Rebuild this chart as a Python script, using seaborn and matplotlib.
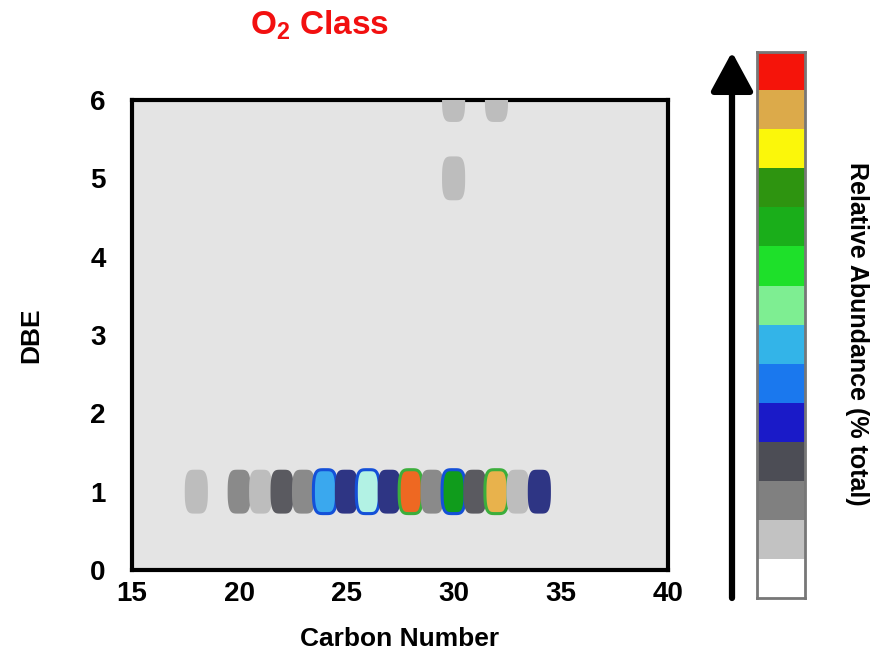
import numpy as np
import pandas as pd
import matplotlib
matplotlib.use("Agg")
import matplotlib.pyplot as plt
import seaborn as sns
from matplotlib.path import Path

# data: carbon number, DBE, abundance level (0..13)
carbon = [18, 20, 21, 22, 23, 24, 25, 26, 27, 28, 29, 30, 31, 32, 33, 34, 30, 30, 32]
dbe = [1, 1, 1, 1, 1, 1, 1, 1, 1, 1, 1, 1, 1, 1, 1, 1, 5, 6, 6]
level = [1, 2, 1, 3, 2, 6, 4, 7, 4, 13, 2, 9, 3, 12, 1, 4, 1, 1, 1]

# colour scale (bottom -> top) as in the colour bar
scale_colors = ["#ffffff", "#c2c2c2", "#808080", "#4c4d55", "#1a1ac8", "#1a78ee",
                "#33b4e8", "#7eee92", "#1ee02a", "#1aae1a", "#2e9410", "#fbf70a",
                "#dcaa4a", "#f5140a"]
# how the blobs look in the plot for each level
blob_colors = ["#ffffff", "#bdbdbd", "#8a8a8a", "#5a5a60", "#2e3584", "#1a78ee",
               "#3aa8ee", "#b2f2e4", "#1ee02a", "#109c1c", "#2e9410", "#fbf70a",
               "#e8b24c", "#ee6822"]
# ring around the strongest peaks
ring_colors = {6: "#1450d8", 7: "#1450d8", 9: "#1450d8", 12: "#3cae3c", 13: "#3cae3c"}

df = pd.DataFrame({"carbon": carbon, "dbe": dbe, "level": level})

sns.set_style("white")
plt.rcParams["font.family"] = ["Liberation Sans", "DejaVu Sans"]
plt.rcParams["text.color"] = "black"
plt.rcParams["xtick.color"] = "black"
plt.rcParams["ytick.color"] = "black"
plt.rcParams["axes.labelcolor"] = "black"
plt.rcParams["mathtext.fontset"] = "custom"
plt.rcParams["mathtext.rm"] = "Liberation Sans:bold"
plt.rcParams["mathtext.bf"] = "Liberation Sans:bold"

fig = plt.figure(figsize=(8.83, 6.55), dpi=100)
ax = fig.add_axes([0.1495, 0.1298, 0.607, 0.7175])
ax.set_facecolor("#e4e4e4")

# rounded vertical blob marker (superellipse)
t = np.linspace(0, 2 * np.pi, 80)
bx = 0.5 * np.sign(np.cos(t)) * np.abs(np.cos(t)) ** 0.45
by = 0.95 * np.sign(np.sin(t)) * np.abs(np.sin(t)) ** 0.75
blob = Path(np.column_stack([bx, by]), closed=True)

edges = [ring_colors.get(l, "none") for l in level]
lws = [2.2 if l in ring_colors else 0 for l in level]
pal = {i: c for i, c in enumerate(blob_colors)}
sns.scatterplot(data=df, x="carbon", y="dbe", hue="level", palette=pal,
                marker=blob, s=1000, edgecolor=edges, linewidth=lws,
                legend=False, ax=ax, zorder=3)

ax.set_xlim(15, 40)
ax.set_ylim(0, 6)
ax.set_xticks([15, 20, 25, 30, 35, 40])
ax.set_yticks(range(0, 7))
ax.tick_params(axis="both", labelsize=20, length=3, width=2, pad=5)
for lab in ax.get_xticklabels() + ax.get_yticklabels():
    lab.set_fontweight("bold")
ax.tick_params(axis="y", pad=16)
for sp in ax.spines.values():
    sp.set_visible(True)
    sp.set_color("black")
    sp.set_linewidth(3)
ax.set_xlabel("Carbon Number", fontsize=19, fontweight="bold", labelpad=14)
ax.set_ylabel("DBE", fontsize=19, fontweight="bold", labelpad=34)
fig.text(0.362, 0.962, r"$\mathbf{O_2}$ Class", color="#f21010", fontsize=24,
         fontweight="bold", ha="center", va="center")

# colour bar legend
cax = fig.add_axes([0.857, 0.087, 0.055, 0.834])
cax.imshow(np.arange(len(scale_colors)).reshape(-1, 1), origin="lower", aspect="auto",
           cmap=matplotlib.colors.ListedColormap(scale_colors),
           extent=[0, 1, 0, len(scale_colors)])
cax.set_xticks([])
cax.set_yticks([])
for sp in cax.spines.values():
    sp.set_color("#777777")
    sp.set_linewidth(2)

fig.text(0.971, 0.49, "Relative Abundance (% total)", rotation=-90, fontsize=18,
         fontweight="bold", ha="center", va="center")

ax.annotate("", xy=(732, 655 - 52), xytext=(732, 655 - 598),
            xycoords="figure pixels", textcoords="figure pixels",
            arrowprops=dict(arrowstyle="-|>,head_length=24,head_width=13",
                            mutation_scale=1, lw=4.5, color="black",
                            shrinkA=0, shrinkB=0))

fig.savefig("out.png", dpi=100)
